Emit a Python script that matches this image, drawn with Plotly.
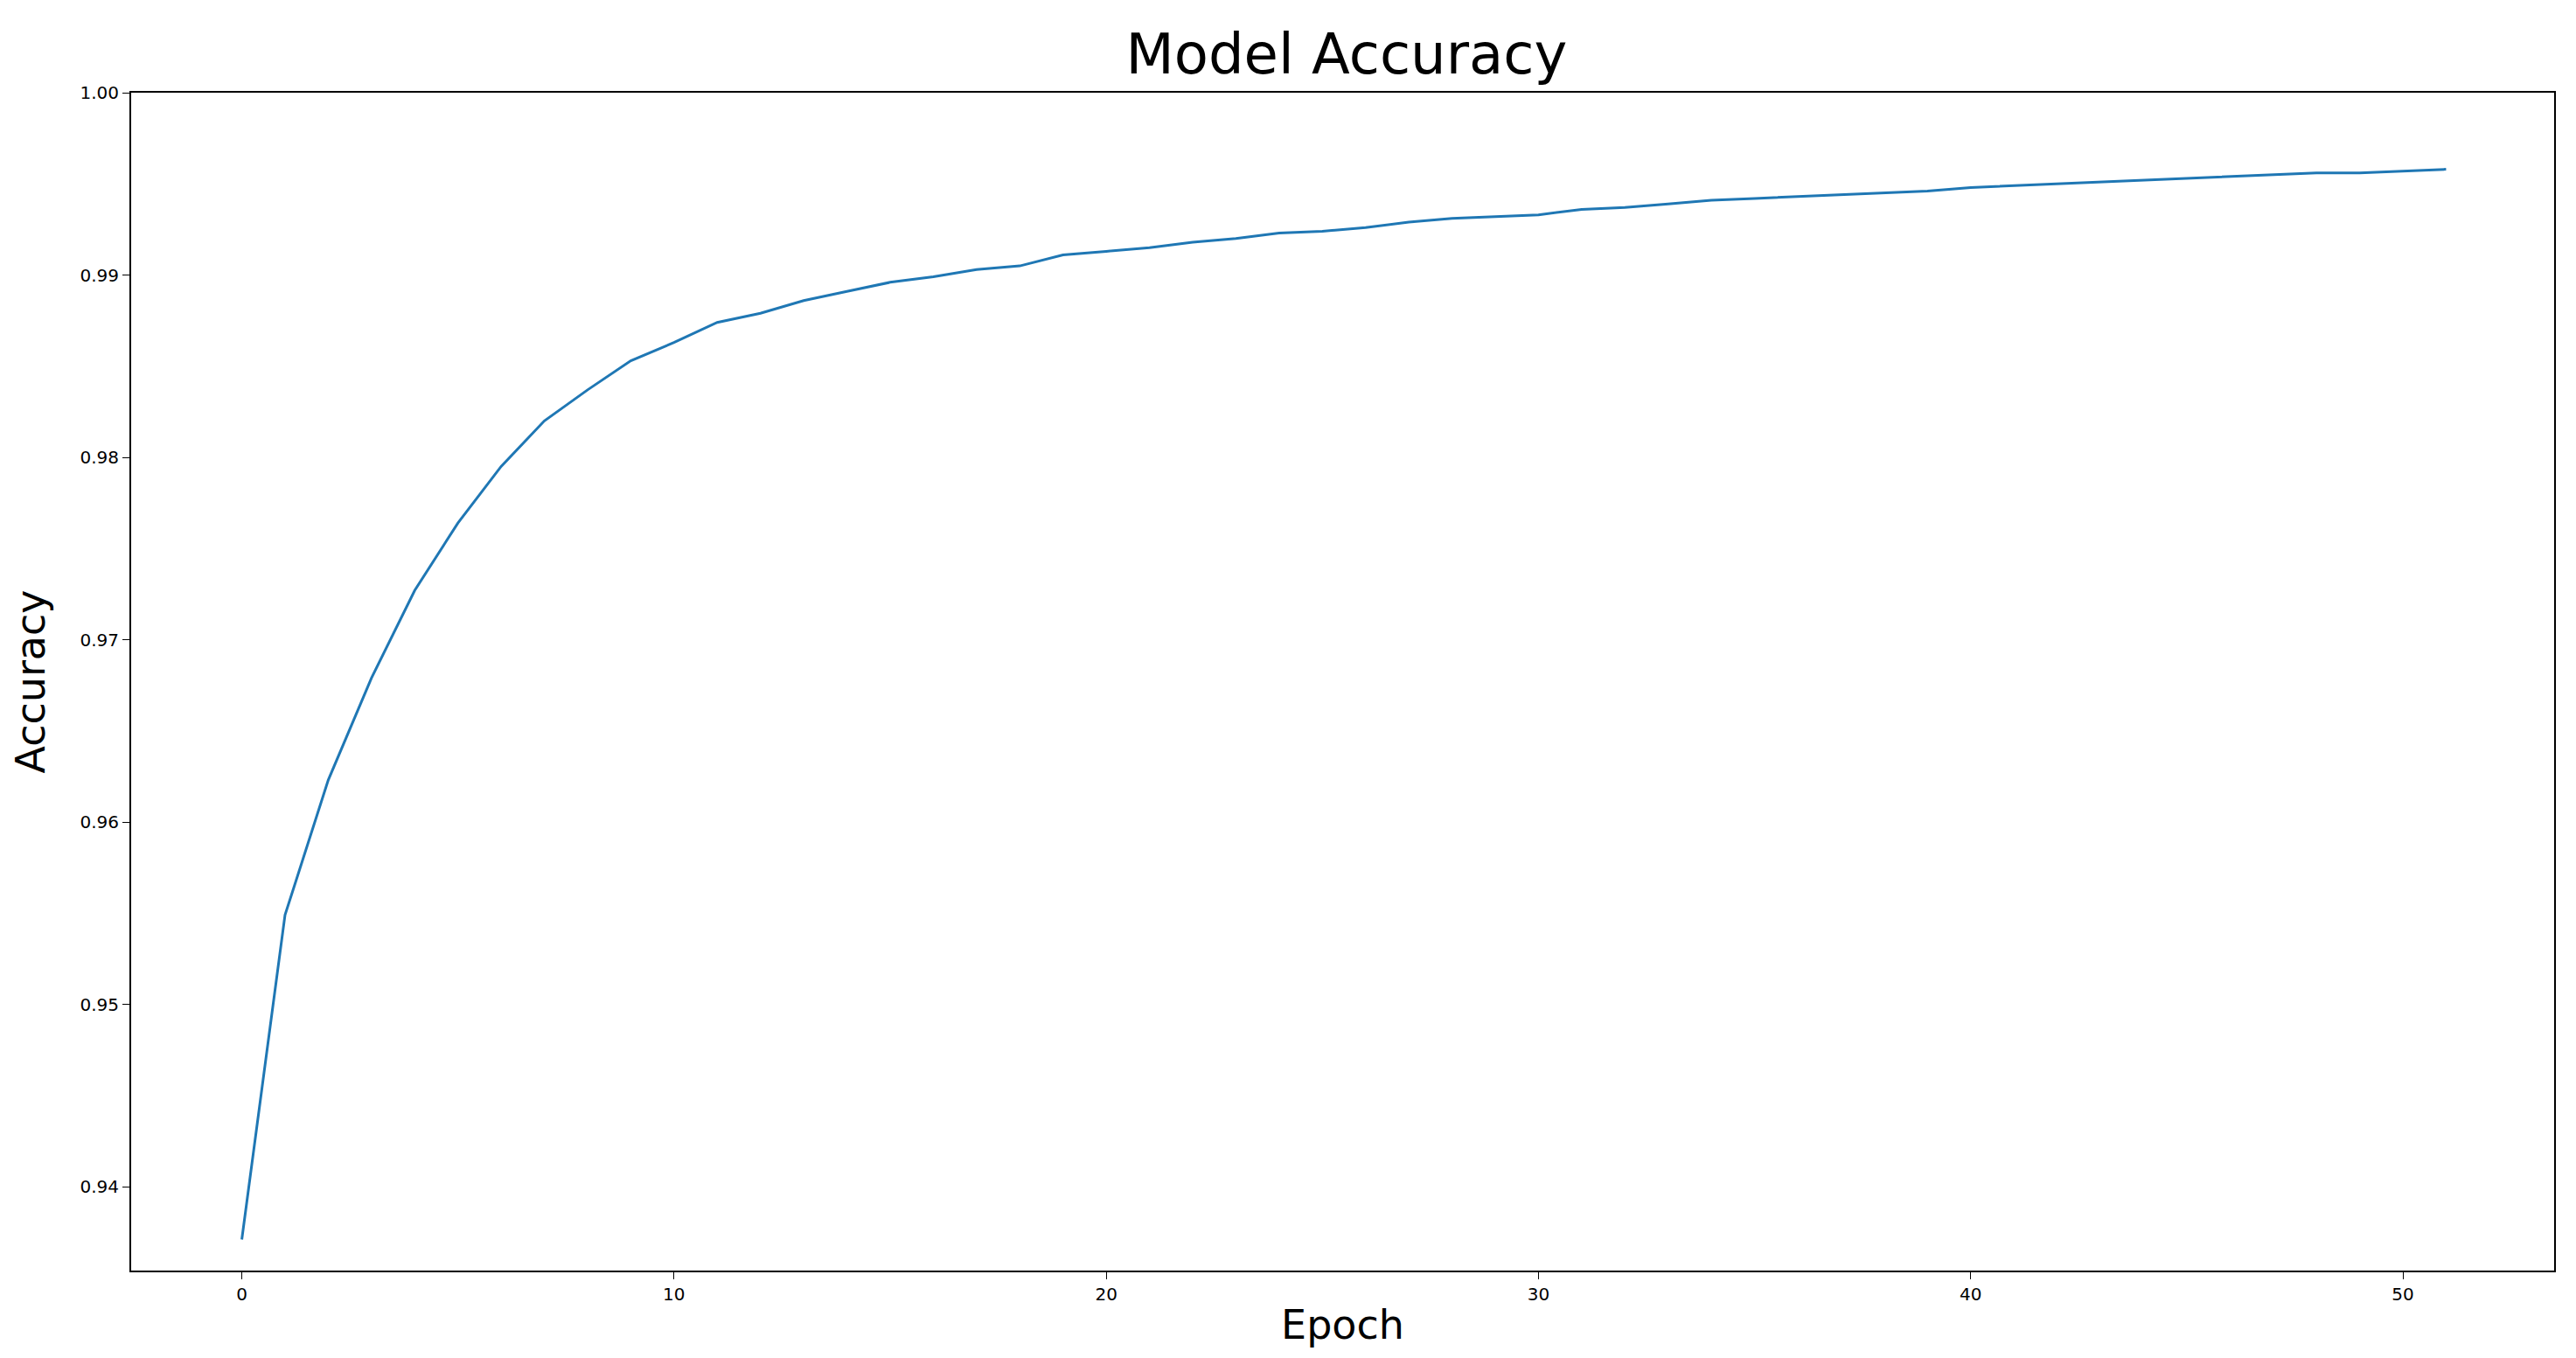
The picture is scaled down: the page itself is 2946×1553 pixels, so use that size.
import plotly.graph_objects as go

epochs = list(range(52))
accuracy = [0.9371, 0.9549, 0.9623, 0.9679, 0.9727, 0.9764, 0.9795, 0.9820, 0.9837, 0.9853,
            0.9863, 0.9874, 0.9879, 0.9886, 0.9891, 0.9896, 0.9899, 0.9903, 0.9905, 0.9911,
            0.9913, 0.9915, 0.9918, 0.9920, 0.9923, 0.9924, 0.9926, 0.9929, 0.9931, 0.9932,
            0.9933, 0.9936, 0.9937, 0.9939, 0.9941, 0.9942, 0.9943, 0.9944, 0.9945, 0.9946,
            0.9948, 0.9949, 0.9950, 0.9951, 0.9952, 0.9953, 0.9954, 0.9955, 0.9956, 0.9956,
            0.9957, 0.9958]
x_ticks = [0, 10, 20, 30, 40, 50]
y_ticks = [0.94, 0.95, 0.96, 0.97, 0.98, 0.99, 1.00]

fig = go.Figure(go.Scatter(x=epochs, y=accuracy, mode="lines",
                           line=dict(color="#1f77b4", width=3)))

axis_common = dict(showline=True, linecolor="black", linewidth=2, mirror=True,
                   ticks="outside", ticklen=8, tickcolor="black", showgrid=False,
                   zeroline=False, tickfont=dict(size=20, family="DejaVu Sans", color="black"))
fig.update_layout(
    width=2946, height=1553,
    paper_bgcolor="white", plot_bgcolor="white",
    margin=dict(l=142, r=33, t=98, b=108),
    showlegend=False,
    title=dict(text="Model Accuracy", x=0.52, xanchor="center", y=0.98, yanchor="top",
               font=dict(size=64, family="DejaVu Sans", color="black")),
    xaxis=dict(range=[-2.56, 53.5], tickvals=x_ticks,
               title=dict(text="Epoch", font=dict(size=46, family="DejaVu Sans", color="black"), standoff=8),
               **axis_common),
    yaxis=dict(range=[0.9354, 1.0], tickvals=y_ticks, tickformat=".2f",
               title=dict(text="Accuracy", font=dict(size=46, family="DejaVu Sans", color="black"), standoff=25),
               **axis_common),
)
fig.write_html("out.html")
